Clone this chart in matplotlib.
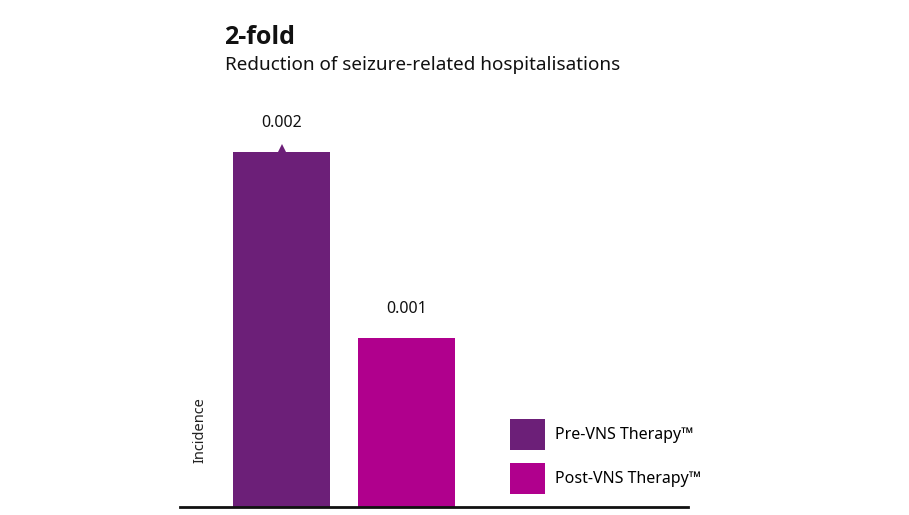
import matplotlib
matplotlib.use("Agg")
import matplotlib.pyplot as plt
from matplotlib.patches import Patch

plt.rcParams['font.family'] = ['Noto Sans', 'DejaVu Sans']

# data
categories = ["Pre-VNS Therapy™", "Post-VNS Therapy™"]
incidence = [0.0021, 0.00100]
value_labels = ["0.002", "0.001"]
colors = ["#6C1F78", "#B0008D"]

fig = plt.figure(figsize=(9.09, 5.15), dpi=100)
ax = fig.add_axes([180 / 909, 8 / 515, 508 / 909, 407 / 515])

pos = list(range(len(categories)))
bars = ax.bar(pos, incidence, width=0.776, color=colors, zorder=2)

# little pointer on top of the first bar
ax.plot(pos[0], incidence[0], marker="^", markersize=12, color=colors[0],
        markeredgewidth=0, clip_on=False, zorder=3)

for b, lab in zip(bars, value_labels):
    ax.annotate(lab, (b.get_x() + b.get_width() / 2, b.get_height()),
                xytext=(0, 15), textcoords="offset points",
                ha="center", va="bottom", fontsize=11.5, color="#111111")

ax.set_xlim(-0.812, 3.252)
ax.set_ylim(0, 0.0021 * 407 / 355)

for s in ["top", "right", "left"]:
    ax.spines[s].set_visible(False)
ax.spines["bottom"].set_linewidth(2)
ax.spines["bottom"].set_color("#111111")
ax.set_xticks([])
ax.set_yticks([])

fig.text(200 / 909, 1 - 430 / 515, "Incidence", rotation=90, ha="center",
         va="center", fontsize=10.5, color="#222222")

fig.text(224 / 909, 1 - 37 / 515, "2-fold", fontsize=18, fontweight="bold",
         family=["Open Sans", "DejaVu Sans"],
         ha="left", va="center", color="#111111")
fig.text(225 / 909, 1 - 65 / 515, "Reduction of seizure-related hospitalisations",
         fontsize=13.6, ha="left", va="center", color="#111111")

handles = [Patch(facecolor=c, edgecolor="none") for c in colors]
ax.legend(handles, categories, loc="upper left",
          bbox_to_anchor=(499 / 909, 1 - 408 / 515), bbox_transform=fig.transFigure,
          frameon=False, fontsize=11.5, handlelength=2.2, handleheight=2.55,
          labelspacing=0.85, handletextpad=0.6, borderpad=0.2)

fig.savefig("out.png", dpi=100)
